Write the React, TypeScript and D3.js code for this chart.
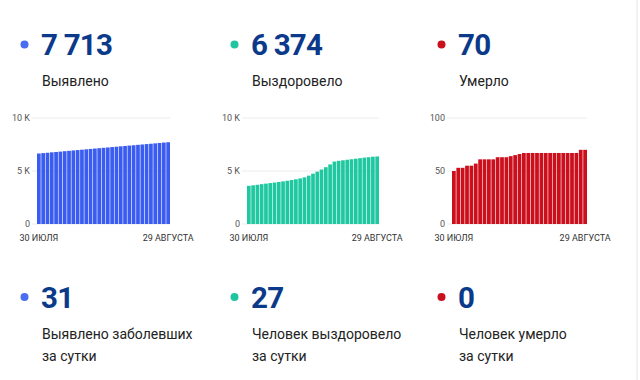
import React from "react";
import * as d3 from "d3";

const days = Array.from({ length: 31 }, (_, i) => `d${i}`);
const firstDateLabel = "30 ИЮЛЯ";
const lastDateLabel = "29 АВГУСТА";

const confirmed = [
  6650, 6688, 6722, 6760, 6795, 6830, 6868, 6902, 6940, 6975, 7010, 7048, 7082, 7118, 7152, 7188,
  7222, 7258, 7292, 7328, 7362, 7398, 7432, 7468, 7502, 7538, 7572, 7608, 7645, 7682, 7713,
];
const recovered = [
  3600, 3650, 3700, 3760, 3810, 3860, 3910, 3960, 4020, 4080, 4150, 4220, 4300, 4400, 4560, 4750,
  4940, 5140, 5360, 5620, 5890, 5960, 6010, 6060, 6110, 6160, 6210, 6260, 6300, 6347, 6374,
];
const deaths = [
  50, 53, 53, 55, 55, 57, 61, 61, 61, 61, 63, 63, 63, 64, 65, 66,
  67, 67, 67, 67, 67, 67, 67, 67, 67, 67, 67, 67, 67, 70, 70,
];

const totals = ["7 713", "6 374", "70"];
const totalLabels = ["Выявлено", "Выздоровело", "Умерло"];
const dailyValues = ["31", "27", "0"];
const dailyLabels = [
  ["Выявлено заболевших", "за сутки"],
  ["Человек выздоровело", "за сутки"],
  ["Человек умерло", "за сутки"],
];
const yMaxes = [10000, 10000, 100];
const yTicks = [
  [0, 5000, 10000],
  [0, 5000, 10000],
  [0, 50, 100],
];
const tickLabel = (v: number, max: number) => (max >= 1000 ? (v === 0 ? "0" : `${v / 1000} K`) : `${v}`);

const colors = ["#3b5cf0", "#1fc8a0", "#cc0f1d"];
const dotColors = ["#4a6cf0", "#20c4a0", "#c8101e"];
const series = [confirmed, recovered, deaths];

const colX = [24.5, 234.5, 441.5];
const plotLeft = [37, 247, 452];
const plotRight = [170, 379, 587];
const plotTop = 118;
const plotBottom = 224;
const FONT = "Roboto, 'Noto Sans', sans-serif";
const NAVY = "#0c3a8a";

function Chart({ idx }: { idx: number }) {
  const data = series[idx];
  const x = d3.scaleBand<string>().domain(days).range([plotLeft[idx], plotRight[idx]]).paddingInner(0.14);
  const y = d3.scaleLinear().domain([0, yMaxes[idx]]).range([plotBottom, plotTop]);
  const firstC = (x(days[0]) ?? 0) + x.bandwidth() / 2;
  const lastC = (x(days[days.length - 1]) ?? 0) + x.bandwidth() / 2;
  return (
    <g>
      {yTicks[idx].map((t) => (
        <g key={t}>
          <line x1={plotLeft[idx] - 5} x2={plotRight[idx]} y1={y(t)} y2={y(t)} stroke="#ececec" strokeWidth={1} />
          <text x={plotLeft[idx] - 7} y={y(t) + 3} textAnchor="end" fontSize={9} fill="#555" fontFamily={FONT}>
            {tickLabel(t, yMaxes[idx])}
          </text>
        </g>
      ))}
      {data.map((v, i) => (
        <rect
          key={i}
          x={x(days[i])}
          y={y(v)}
          width={x.bandwidth()}
          height={plotBottom - y(v)}
          fill={colors[idx]}
        />
      ))}
      <text x={firstC} y={241} textAnchor="middle" fontSize={9} fill="#333" fontFamily={FONT}>
        {firstDateLabel}
      </text>
      <text x={lastC} y={241} textAnchor="middle" fontSize={9} fill="#333" fontFamily={FONT}>
        {lastDateLabel}
      </text>
    </g>
  );
}

export default function App() {
  return (
    <svg
      width={640}
      height={380}
      style={{ position: "absolute", left: 0, top: 0, background: "#fff" }}
      fontFamily={FONT}
    >
      <rect width={640} height={380} fill="#fff" />
      <line x1={637} x2={637} y1={0} y2={380} stroke="#e6e6e6" strokeWidth={1} />
      {[0, 1, 2].map((i) => (
        <g key={i}>
          <circle cx={colX[i]} cy={44.5} r={4} fill={dotColors[i]} />
          <text x={colX[i] + 16.5} y={55} fontSize={29.5} fontWeight={700} fill={NAVY} letterSpacing={-0.8}>
            {totals[i]}
          </text>
          <text x={colX[i] + 17.5} y={86} fontSize={14} fill="#222">
            {totalLabels[i]}
          </text>
          <Chart idx={i} />
          <circle cx={colX[i]} cy={297} r={4} fill={dotColors[i]} />
          <text x={colX[i] + 16.5} y={308} fontSize={29.5} fontWeight={700} fill={NAVY} letterSpacing={-0.8}>
            {dailyValues[i]}
          </text>
          <text x={colX[i] + 17.5} y={339} fontSize={14} fill="#222">
            {dailyLabels[i][0]}
          </text>
          <text x={colX[i] + 17.5} y={361} fontSize={14} fill="#222">
            {dailyLabels[i][1]}
          </text>
        </g>
      ))}
    </svg>
  );
}
